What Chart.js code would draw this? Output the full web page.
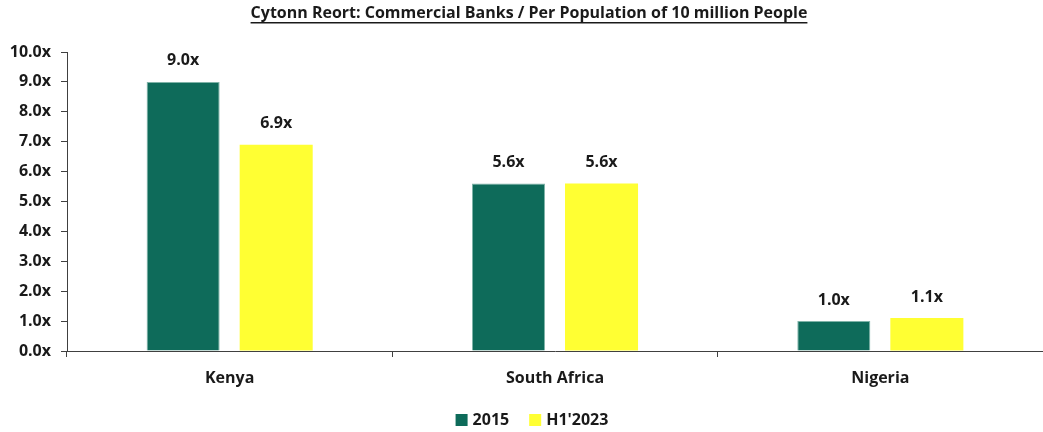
<!DOCTYPE html>
<html lang="en">
<head>
  <meta charset="UTF-8">
  <title>Cytonn Report: Commercial Banks per 10 million People</title>
  <script src="https://cdn.jsdelivr.net/npm/chart.js"></script>
  <style>
    html, body { margin: 0; padding: 0; background: #ffffff; }
    #wrap { width: 1043px; height: 432px; position: relative; }
  </style>
</head>
<body>
  <div id="wrap"><canvas id="chart"></canvas></div>

  <script>
    // data
    const categories = ['Kenya', 'South Africa', 'Nigeria'];
    const seriesNames = ['2015', "H1'2023"];
    const values2015 = [9.0, 5.6, 1.0];
    const valuesH1 = [6.9, 5.6, 1.1];
    const yTicks = [0, 1, 2, 3, 4, 5, 6, 7, 8, 9, 10];

    const titleText = 'Cytonn Reort: Commercial Banks / Per Population of 10 million People';
    const FONT = '"Open Sans", "Liberation Sans", sans-serif';
    const INK = '#1a1a1a';

    // title drawn with an underline, like the original
    const titlePlugin = {
      id: 'underlinedTitle',
      afterDraw(chart) {
        const ctx = chart.ctx;
        ctx.save();
        ctx.font = 'bold 16px ' + FONT;
        ctx.fillStyle = INK;
        ctx.textAlign = 'center';
        ctx.textBaseline = 'middle';
        const cx = 529;
        ctx.fillText(titleText, cx, 13);
        const w = ctx.measureText(titleText).width;
        ctx.fillRect(cx - w / 2, 22, w, 1.5);
        ctx.restore();
      }
    };

    // value labels above each bar
    const valueLabels = {
      id: 'valueLabels',
      afterDatasetsDraw(chart) {
        const ctx = chart.ctx;
        ctx.save();
        ctx.font = 'bold 16px ' + FONT;
        ctx.fillStyle = INK;
        ctx.textAlign = 'center';
        ctx.textBaseline = 'middle';
        chart.data.datasets.forEach((ds, i) => {
          chart.getDatasetMeta(i).data.forEach((bar, j) => {
            ctx.fillText(ds.data[j].toFixed(1) + 'x', bar.x, bar.y - 21);
          });
        });
        ctx.restore();
      }
    };

    // legend at the very bottom, built from the datasets
    const bottomLegend = {
      id: 'bottomLegend',
      afterDraw(chart) {
        const ctx = chart.ctx;
        ctx.save();
        ctx.font = 'bold 16px ' + FONT;
        ctx.textBaseline = 'middle';
        const box = 12, gap = 5, spacing = 20, y = 420;
        const items = chart.data.datasets.map(ds => ({ label: ds.label, color: ds.backgroundColor, w: ctx.measureText(ds.label).width }));
        const total = items.reduce((s, it) => s + box + gap + it.w, 0) + spacing * (items.length - 1);
        let x = 532 - total / 2;
        items.forEach(it => {
          ctx.fillStyle = it.color;
          ctx.fillRect(x, y - box / 2, box, box);
          ctx.fillStyle = INK;
          ctx.fillText(it.label, x + box + gap, y);
          x += box + gap + it.w + spacing;
        });
        ctx.restore();
      }
    };

    new Chart(document.getElementById('chart'), {
      type: 'bar',
      data: {
        labels: categories,
        datasets: [
          { label: seriesNames[0], data: values2015, backgroundColor: '#0e6b5a',
            borderColor: '#7fb3a8', borderWidth: { top: 1, left: 1, right: 1, bottom: 0 } },
          { label: seriesNames[1], data: valuesH1, backgroundColor: '#ffff33' }
        ]
      },
      options: {
        responsive: true,
        maintainAspectRatio: false,
        animation: false,
        layout: { padding: { top: 52, right: 0, left: 0, bottom: 0 } },
        datasets: { bar: { categoryPercentage: 0.572, barPercentage: 0.785 } },
        scales: {
          x: {
            afterFit: scale => { scale.height = 81; },
            grid: { offset: true, drawOnChartArea: false, tickLength: 6, color: '#404040' },
            border: { color: '#404040', width: 1 },
            ticks: { color: INK, font: { family: FONT, size: 16, weight: 'bold' }, padding: 12 }
          },
          y: {
            min: 0, max: 10,
            afterBuildTicks: scale => { scale.ticks = yTicks.map(v => ({ value: v })); },
            afterFit: scale => { scale.width = 67; },
            grid: { drawOnChartArea: false, tickLength: 6, color: '#404040' },
            border: { color: '#404040', width: 1 },
            ticks: {
              color: INK, padding: 10,
              font: { family: FONT, size: 16, weight: 'bold' },
              callback: v => v.toFixed(1) + 'x'
            }
          }
        },
        plugins: {
          legend: { display: false },
          title: { display: false },
          tooltip: { enabled: false }
        }
      },
      plugins: [titlePlugin, valueLabels, bottomLegend]
    });
  </script>
</body>
</html>
